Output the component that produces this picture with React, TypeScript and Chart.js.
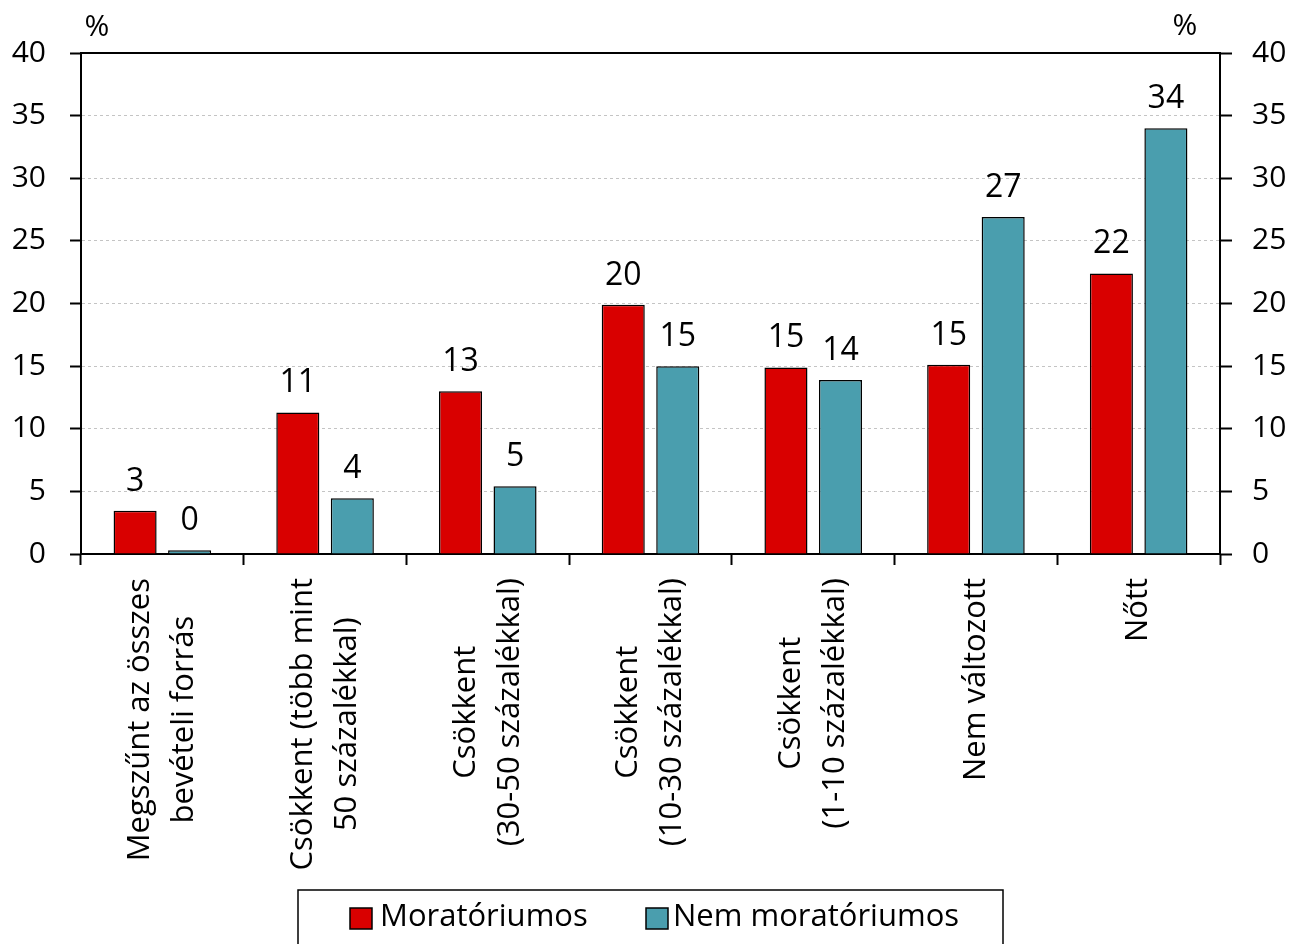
import { useEffect, useRef } from "react";
import { Chart, registerables } from "chart.js";

Chart.register(...registerables);

const categories: string[][] = [
  ["Megszűnt az összes", "bevételi forrás"],
  ["Csökkent (több mint", "50 százalékkal)"],
  ["Csökkent", "(30-50 százalékkal)"],
  ["Csökkent", "(10-30 százalékkal)"],
  ["Csökkent", "(1-10 százalékkal)"],
  ["Nem változott"],
  ["Nőtt"],
];
const moratoriumValues = [3.45, 11.3, 13.0, 19.9, 14.9, 15.1, 22.4];
const nonMoratoriumValues = [0.3, 4.45, 5.4, 15.0, 13.9, 26.9, 34.0];
const seriesNames = ["Moratóriumos", "Nem moratóriumos"];
const seriesColors = ["#D90000", "#4A9EAE"];
const yMin = 0;
const yMax = 40;
const yStep = 5;
const unitLabel = "%";

const FONT = "'Open Sans', 'DejaVu Sans', sans-serif";

const customDraw = {
  id: "customDraw",
  afterDatasetsDraw(chart: any) {
    const ctx = chart.ctx;
    ctx.save();
    ctx.fillStyle = "#000";
    ctx.font = `32px ${FONT}`;
    ctx.textAlign = "center";
    ctx.textBaseline = "alphabetic";
    chart.data.datasets.forEach((ds: any, di: number) => {
      const meta = chart.getDatasetMeta(di);
      meta.data.forEach((el: any, i: number) => {
        const v = ds.data[i];
        ctx.fillText(String(Math.round(v)), el.x, el.y - 20);
      });
    });
    ctx.restore();
  },
  afterDraw(chart: any) {
    const ctx = chart.ctx;
    const xs = chart.scales.x;
    const ys = chart.scales.y;
    const area = chart.chartArea;
    ctx.save();
    // solid top line at max
    const yTop = ys.getPixelForValue(yMax);
    ctx.strokeStyle = "#000";
    ctx.lineWidth = 2;
    ctx.beginPath();
    ctx.moveTo(area.left, yTop);
    ctx.lineTo(area.right, yTop);
    ctx.stroke();

    // unit labels
    ctx.fillStyle = "#000";
    ctx.font = `30px ${FONT}`;
    ctx.textAlign = "center";
    ctx.textBaseline = "alphabetic";
    ctx.fillText(unitLabel, area.left + 16, 36);
    ctx.fillText(unitLabel, area.right - 35, 35);

    // category labels, rotated, centered lines
    ctx.font = `31px ${FONT}`;
    const lineH = 44;
    const topY = area.bottom + 24;
    categories.forEach((lines, i) => {
      const cx = xs.getPixelForValue(i);
      const maxW = Math.max(...lines.map((l) => ctx.measureText(l).width));
      ctx.save();
      ctx.translate(cx, topY);
      ctx.rotate(-Math.PI / 2);
      ctx.textAlign = "center";
      ctx.textBaseline = "middle";
      const n = lines.length;
      lines.forEach((l, li) => {
        const off = (li - (n - 1) / 2) * lineH;
        ctx.fillText(l, -maxW / 2, off);
      });
      ctx.restore();
    });

    // legend
    const boxL = 298, boxR = 1003, boxT = 890, boxB = 960;
    ctx.strokeStyle = "#000";
    ctx.lineWidth = 1.5;
    ctx.strokeRect(boxL, boxT, boxR - boxL, boxB - boxT);
    const items = [
      { sx: 350, tx: 380 },
      { sx: 646, tx: 673 },
    ];
    ctx.font = `31px ${FONT}`;
    ctx.textAlign = "left";
    ctx.textBaseline = "middle";
    items.forEach((it, k) => {
      ctx.fillStyle = seriesColors[k];
      ctx.fillRect(it.sx, 908, 22, 21);
      ctx.lineWidth = 1.5;
      ctx.strokeStyle = "#000";
      ctx.strokeRect(it.sx, 908, 22, 21);
      ctx.fillStyle = "#000";
      ctx.fillText(seriesNames[k], it.tx, 917);
    });
    ctx.restore();
  },
};

export default function App() {
  const ref = useRef<HTMLCanvasElement | null>(null);
  useEffect(() => {
    document.body.style.margin = "0";
    const canvas = ref.current!;
    const chart = new Chart(canvas, {
      type: "bar",
      data: {
        labels: categories.map((c) => c.join(" ")),
        datasets: [
          {
            label: seriesNames[0],
            data: moratoriumValues,
            backgroundColor: seriesColors[0],
            borderColor: "#000",
            borderWidth: 1.5,
            yAxisID: "y",
            categoryPercentage: 0.67,
            barPercentage: 0.79,
          },
          {
            label: seriesNames[1],
            data: nonMoratoriumValues,
            backgroundColor: seriesColors[1],
            borderColor: "#000",
            borderWidth: 1.5,
            yAxisID: "y",
            categoryPercentage: 0.67,
            barPercentage: 0.79,
          },
        ],
      },
      options: {
        responsive: false,
        maintainAspectRatio: false,
        animation: false,
        devicePixelRatio: 1,
        layout: { padding: { top: 53, left: 0, right: 0, bottom: 0 } },
        plugins: {
          legend: { display: false },
          tooltip: { enabled: false },
        },
        scales: {
          x: {
            offset: true,
            grid: {
              offset: true,
              drawOnChartArea: false,
              drawTicks: true,
              tickLength: 11,
              tickColor: "#000",
              tickWidth: 2,
            },
            border: { color: "#000", width: 2 },
            ticks: { display: false },
            afterFit: (s: any) => {
              s.height = 390;
            },
          },
          y: {
            position: "left",
            min: yMin,
            max: yMax,
            ticks: {
              stepSize: yStep,
              color: "#000",
              padding: 24,
              font: { family: FONT, size: 30 },
            },
            grid: {
              color: (c: any) =>
                c.tick && (c.tick.value === yMin || c.tick.value === yMax)
                  ? "rgba(0,0,0,0)"
                  : "#c4c4c4",
              lineWidth: 1,
              tickColor: "#000",
              tickWidth: 2,
              tickLength: 11,
              tickBorderDash: [],
            },
            border: { color: "#000", width: 2, dash: [3, 3] },
            afterFit: (s: any) => {
              s.width = 81;
            },
          },
          y2: {
            position: "right",
            min: yMin,
            max: yMax,
            ticks: {
              stepSize: yStep,
              color: "#000",
              padding: 20,
              font: { family: FONT, size: 30 },
            },
            grid: {
              drawOnChartArea: false,
              tickColor: "#000",
              tickWidth: 2,
              tickLength: 12,
            },
            border: { color: "#000", width: 2 },
            afterFit: (s: any) => {
              s.width = 74;
            },
          },
        },
      },
      plugins: [customDraw],
    });
    return () => chart.destroy();
  }, []);
  return (
    <canvas
      ref={ref}
      width={1294}
      height={944}
      style={{ display: "block", width: 1294, height: 944 }}
    />
  );
}
